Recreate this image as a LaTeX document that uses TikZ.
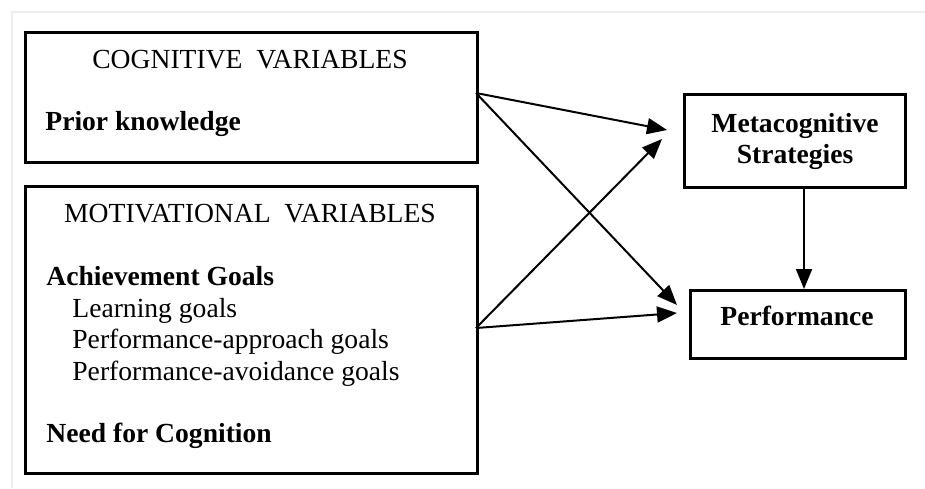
\documentclass[tikz,border=0pt]{standalone}
\usepackage{fontspec}
\setmainfont{Liberation Serif}
\usetikzlibrary{arrows.meta}

\tikzset{
  box/.style={draw, line width=1.5pt, minimum width=#1, inner sep=0pt, anchor=north west},
  txt/.style={anchor=base west, inner sep=0pt, font=\fontsize{13.8}{16}\selectfont},
  head/.style={anchor=base, inner sep=0pt, font=\fontsize{13.8}{16}\selectfont},
  link/.style={line width=1pt, -{Triangle[length=10pt, width=8pt]}}
}

\begin{document}
\begin{tikzpicture}[x=0.5pt, y=-0.5pt]
\useasboundingbox (0,0) rectangle (925,488);

% faint frame
\draw [gray!15, line width=1pt] (12,488) -- (12,12) -- (925,12);

% draw boxes
\node [box=226pt, minimum height=65pt] (cog) at (24,31) {};
\node [box=226pt, minimum height=143.5pt] (mot) at (24,185) {};
\node [box=110.5pt, minimum height=46.5pt, align=center, font=\fontsize{13.8}{15.5}\selectfont\bfseries] (meta) at (683,93) {Metacognitive\\Strategies};
\node [box=107.5pt, minimum height=34pt] (perf) at (689,289) {};

% add texts
\node [head] (coghead) at (250,68) {COGNITIVE\ \ VARIABLES};
\node [txt, font=\fontsize{13.8}{16}\selectfont\bfseries] (prior) at (45,130) {Prior knowledge};

\node [head] (mothead) at (250,222) {MOTIVATIONAL\ \ VARIABLES};
\node [txt, font=\fontsize{13.8}{16}\selectfont\bfseries] (achieve) at (46,285) {Achievement Goals};
\node [txt] (learn) at (72,317) {Learning goals};
\node [txt] (approach) at (72,348) {Performance-approach goals};
\node [txt] (avoid) at (72,380) {Performance-avoidance goals};
\node [txt, font=\fontsize{13.8}{16}\selectfont\bfseries] (need) at (46,442) {Need for Cognition};

\node [head, font=\fontsize{13.8}{16}\selectfont\bfseries] (perflabel) at (797,325) {Performance};

% arrow ends
\coordinate (cogout) at (476,93);
\coordinate (motout) at (476,328);
\coordinate (metain1) at (667,130);
\coordinate (metain2) at (662,139);
\coordinate (perfin1) at (677,305);
\coordinate (perfin2) at (677,313);

% draw arrows
\draw [link] (cogout) -- (metain1);
\draw [link] (cogout) -- (perfin1);
\draw [link] (motout) -- (metain2);
\draw [link] (motout) -- (perfin2);
\draw [link] (meta.south -| 804,0) -- (perf.north -| 804,0);

\end{tikzpicture}
\end{document}
